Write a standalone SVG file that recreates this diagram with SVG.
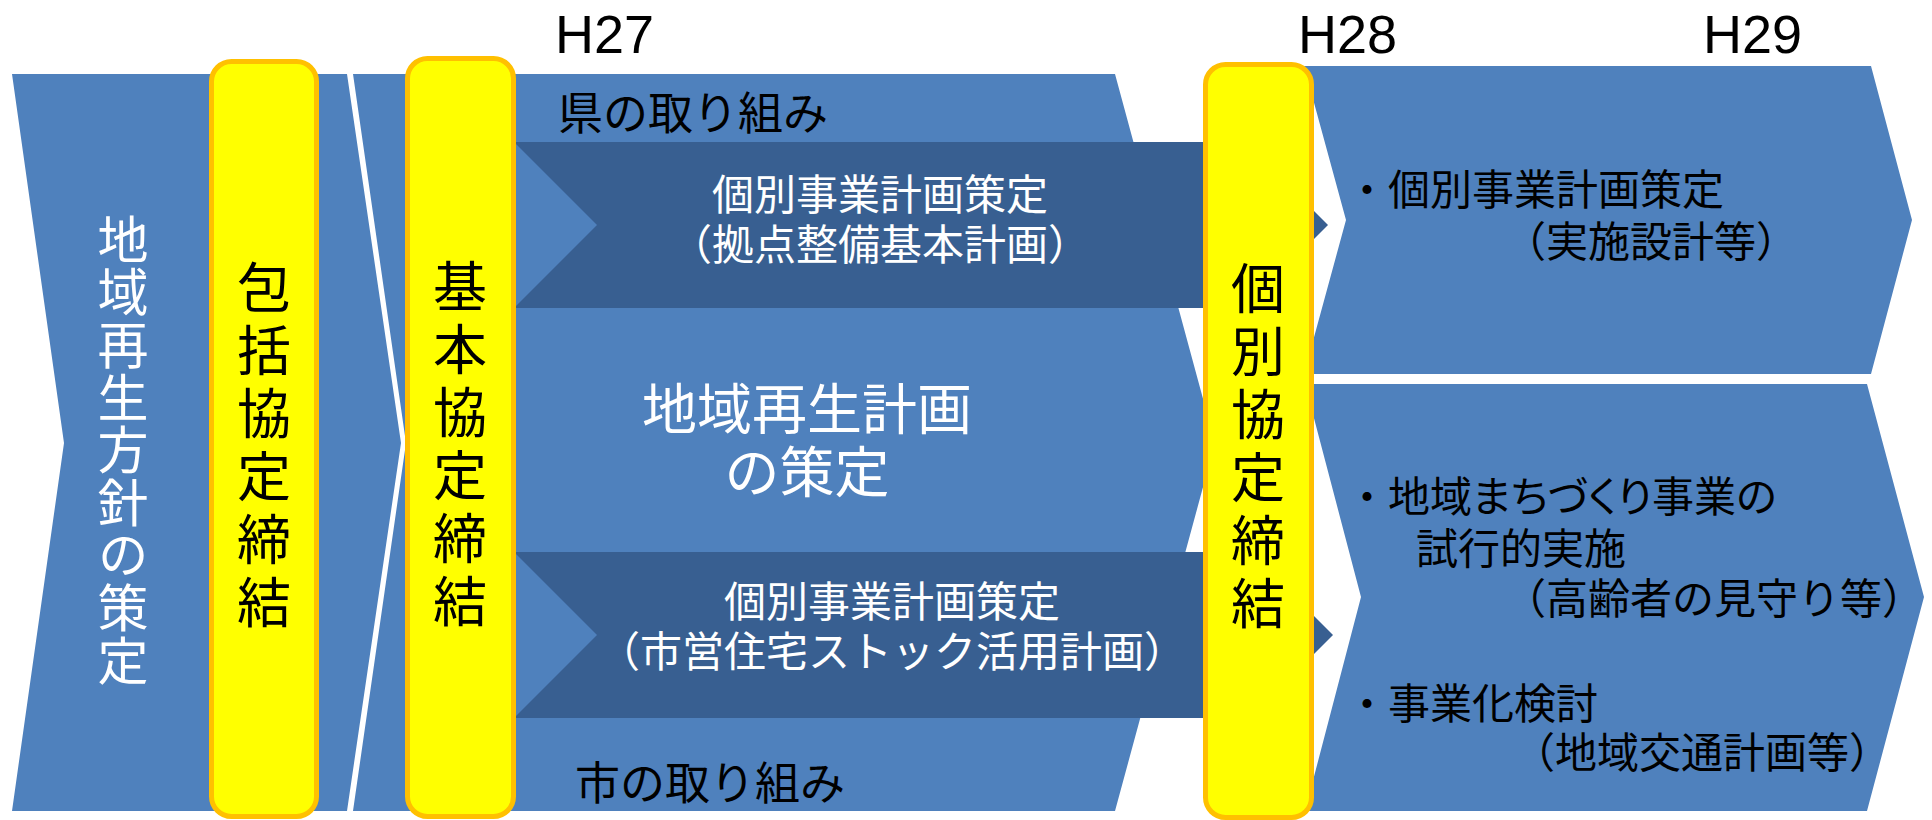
<svg xmlns="http://www.w3.org/2000/svg" width="1932" height="820" viewBox="0 0 1932 820">
<style>
text{font-family:"Noto Sans CJK JP","Noto Sans CJK SC",sans-serif}
.lb{fill:#4F81BD}
.db{fill:#385F91}
.bar{fill:#FFFF00;stroke:#FFC000;stroke-width:5}
.w{fill:#FFFFFF}
.k{fill:#000000}
.yr{font-family:"Liberation Sans",Arial,sans-serif;font-size:54px;fill:#000}
.vt{font-size:54px;fill:#000;writing-mode:vertical-rl;letter-spacing:9px}
.s42{font-size:42px}
.mid{text-anchor:middle}
</style>
<rect x="0" y="0" width="1932" height="820" fill="#FFFFFF"/>
<g id="labels-years">
<text class="yr" x="555" y="53">H27</text>
<text class="yr" x="1298" y="53">H28</text>
<text class="yr" x="1703" y="53">H29</text>
</g>
<g id="node-houshin">
<polygon class="lb" points="12,74 347,74 401,443 347,811 12,811 64,443"/>
<text class="w" x="123" y="214" style="font-size:51px;writing-mode:vertical-rl;letter-spacing:1.6px">地域再生方針の策定</text>
</g>
<g id="node-keikaku">
<polygon class="lb" points="353,74 1115,74 1215,443 1115,811 353,811 406,443"/>
<text class="k" font-size="45" x="558" y="130">県の取り組み</text>
<text class="k" font-size="45" x="575" y="800">市の取り組み</text>
<text class="w mid" font-size="55" x="807" y="429">地域再生計画</text>
<text class="w mid" font-size="55" x="807" y="492">の策定</text>
</g>
<g id="node-ken">
<polygon class="db" points="514,142 1245,142 1328,225 1245,308 514,308 597,225"/>
<text class="w mid s42" x="880" y="210">個別事業計画策定</text>
<text class="w mid s42" x="880" y="260">（拠点整備基本計画）</text>
</g>
<g id="node-shi">
<polygon class="db" points="514,552 1250,552 1333,635 1250,718 514,718 597,635"/>
<text class="w mid s42" x="892" y="617">個別事業計画策定</text>
<text class="w mid s42" x="892" y="667">（市営住宅ストック活用計画）</text>
</g>
<g id="node-h29-upper">
<polygon class="lb" points="1304,66 1871,66 1912,220 1871,374 1304,374 1346,220"/>
<text class="k s42" x="1346" y="205">・個別事業計画策定</text>
<text class="k s42" x="1504" y="257">（実施設計等）</text>
</g>
<g id="node-h29-lower">
<polygon class="lb" points="1305,384 1867,384 1924,597 1867,811 1305,811 1361,597"/>
<text class="k s42" x="1346" y="512">・<tspan style="font-feature-settings:'palt'">地域まちづくり事業の</tspan></text>
<text class="k s42" x="1416" y="564">試行的実施</text>
<text class="k s42" x="1504" y="614">（高齢者の見守り等）</text>
<text class="k s42" x="1346" y="719">・事業化検討</text>
<text class="k s42" x="1513" y="768">（地域交通計画等）</text>
</g>
<g id="node-houkatsu">
<rect class="bar" x="211.5" y="61.5" width="105" height="755" rx="20"/>
<text class="vt" x="264" y="260">包括協定締結</text>
</g>
<g id="node-kihon">
<rect class="bar" x="407.5" y="58.5" width="106" height="758" rx="20"/>
<text class="vt" x="460" y="259">基本協定締結</text>
</g>
<g id="node-kobetsu">
<rect class="bar" x="1205.5" y="64.5" width="106" height="753" rx="20"/>
<text class="vt" x="1258" y="261">個別協定締結</text>
</g>
<g id="connectors"/>
</svg>
